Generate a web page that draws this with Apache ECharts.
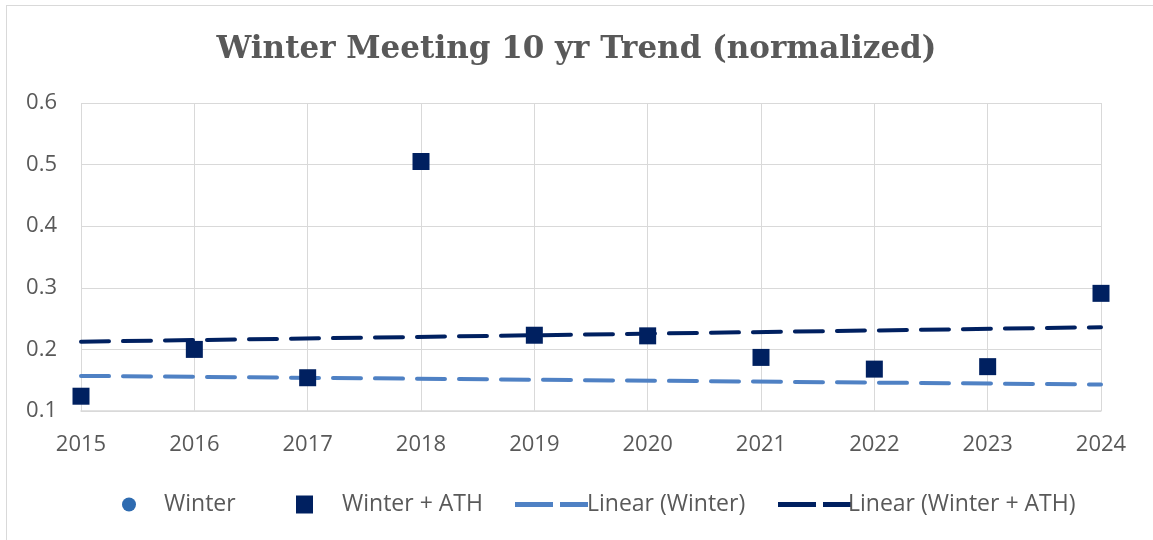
<!DOCTYPE html>
<html lang="en">
<head>
	<meta charset="UTF-8">
	<title>Winter Meeting 10 yr Trend</title>
	<style>
		body{
			margin: 0;
			background: #fff;
		}
		#frame{
			position: absolute;
			left: 6px;
			top: 5px;
			width: 1147px;
			height: 535px;
			border-left: 1px solid #d9d9d9;
			border-top: 1px solid #d9d9d9;
		}
		#main{
			position: absolute;
			left: 0;
			top: 0;
			width: 1153px;
			height: 540px;
		}
	</style>
	<script src="https://cdn.jsdelivr.net/npm/echarts@6/dist/echarts.min.js"></script>
</head>
<body>
	<div id="frame"></div>
	<div id="main"></div>

	<script>
		// years on the x axis
		var years = [2015, 2016, 2017, 2018, 2019, 2020, 2021, 2022, 2023, 2024];
		// Winter + ATH points (normalized)
		var winterAth = [0.124, 0.200, 0.154, 0.505, 0.223, 0.222, 0.187, 0.168, 0.172, 0.291];
		// Winter points are not visible in the picture
		var winter = [];
		// trend line ends, read at 2015 and 2024
		var trendYears = [2015, 2024];
		var trendWinter = [0.157, 0.143];
		var trendWinterAth = [0.2125, 0.236];

		var navy = '#002060';
		var lightBlue = '#4f81c4';
		var gray = '#595959';
		var font = 'Open Sans';

		function pairs(xs, ys){
			var out = [];
			for (var i = 0; i < ys.length; i++) {
				out.push([xs[i], ys[i]]);
			}
			return out;
		}

		// legend icon: a long and a short dash
		var dashIcon = 'path://M0,0h38v5h-38z M45,0h28v5h-28z';

		var myChart = echarts.init(document.getElementById('main'));

		var option = {
			animation: false,
			title: {
				text: 'Winter Meeting 10 yr Trend (normalized)',
				left: 'center',
				top: 29,
				textStyle: {
					fontFamily: 'DejaVu Serif',
					fontWeight: 'bold',
					fontSize: 31,
					color: gray
				}
			},
			grid: {
				left: 81,
				right: 52,
				top: 103,
				bottom: 129
			},
			legend: [
				{
					data: [{name: 'Winter', icon: 'circle'}],
					left: 117, top: 488,
					itemWidth: 14, itemHeight: 14,
					textStyle: {fontFamily: font, fontSize: 23, color: gray, padding: [0, 0, 0, 23]}
				},
				{
					data: [{name: 'Winter + ATH', icon: 'rect'}],
					left: 291, top: 488,
					itemWidth: 17, itemHeight: 18,
					textStyle: {fontFamily: font, fontSize: 23, color: gray, padding: [0, 0, 0, 24]}
				},
				{
					data: [{name: 'Linear (Winter)', icon: dashIcon}],
					left: 510, top: 488,
					itemWidth: 73, itemHeight: 5,
					textStyle: {fontFamily: font, fontSize: 23, color: gray, padding: [0, 0, 0, -6]}
				},
				{
					data: [{name: 'Linear (Winter + ATH)', icon: dashIcon}],
					left: 773, top: 488,
					itemWidth: 73, itemHeight: 5,
					textStyle: {fontFamily: font, fontSize: 23, color: gray, padding: [0, 0, 0, -8]}
				}
			],
			xAxis: {
				type: 'value',
				min: 2015,
				max: 2024,
				interval: 1,
				axisLine: {show: true, lineStyle: {color: '#d9d9d9', width: 1.5}},
				axisTick: {show: false},
				splitLine: {show: true, lineStyle: {color: '#d9d9d9'}},
				axisLabel: {
					margin: 23,
					fontFamily: font,
					fontSize: 22,
					color: gray,
					formatter: function (v) { return String(v); }
				}
			},
			yAxis: {
				type: 'value',
				min: 0.1,
				max: 0.6,
				interval: 0.1,
				axisLine: {show: false},
				axisTick: {show: false},
				splitLine: {show: true, lineStyle: {color: '#d9d9d9'}},
				axisLabel: {
					margin: 24,
					fontFamily: font,
					fontSize: 22,
					color: gray,
					formatter: function (v) { return v.toFixed(1); }
				}
			},
			series: [
				{
					name: 'Winter',
					type: 'scatter',
					symbol: 'circle',
					symbolSize: 14,
					itemStyle: {color: '#2e6bb0', opacity: 1},
					data: pairs(years, winter)
				},
				{
					name: 'Linear (Winter)',
					type: 'line',
					symbol: 'none',
					itemStyle: {color: lightBlue},
					lineStyle: {color: lightBlue, width: 4, type: [28, 14], cap: 'round'},
					data: pairs(trendYears, trendWinter),
					z: 2
				},
				{
					name: 'Linear (Winter + ATH)',
					type: 'line',
					symbol: 'none',
					itemStyle: {color: navy},
					lineStyle: {color: navy, width: 4, type: [28, 14], cap: 'round'},
					data: pairs(trendYears, trendWinterAth),
					z: 2
				},
				{
					name: 'Winter + ATH',
					type: 'scatter',
					symbol: 'rect',
					symbolSize: [17, 17],
					itemStyle: {color: navy, opacity: 1},
					data: pairs(years, winterAth),
					z: 3
				}
			]
		};

		myChart.setOption(option);
	</script>
</body>
</html>
